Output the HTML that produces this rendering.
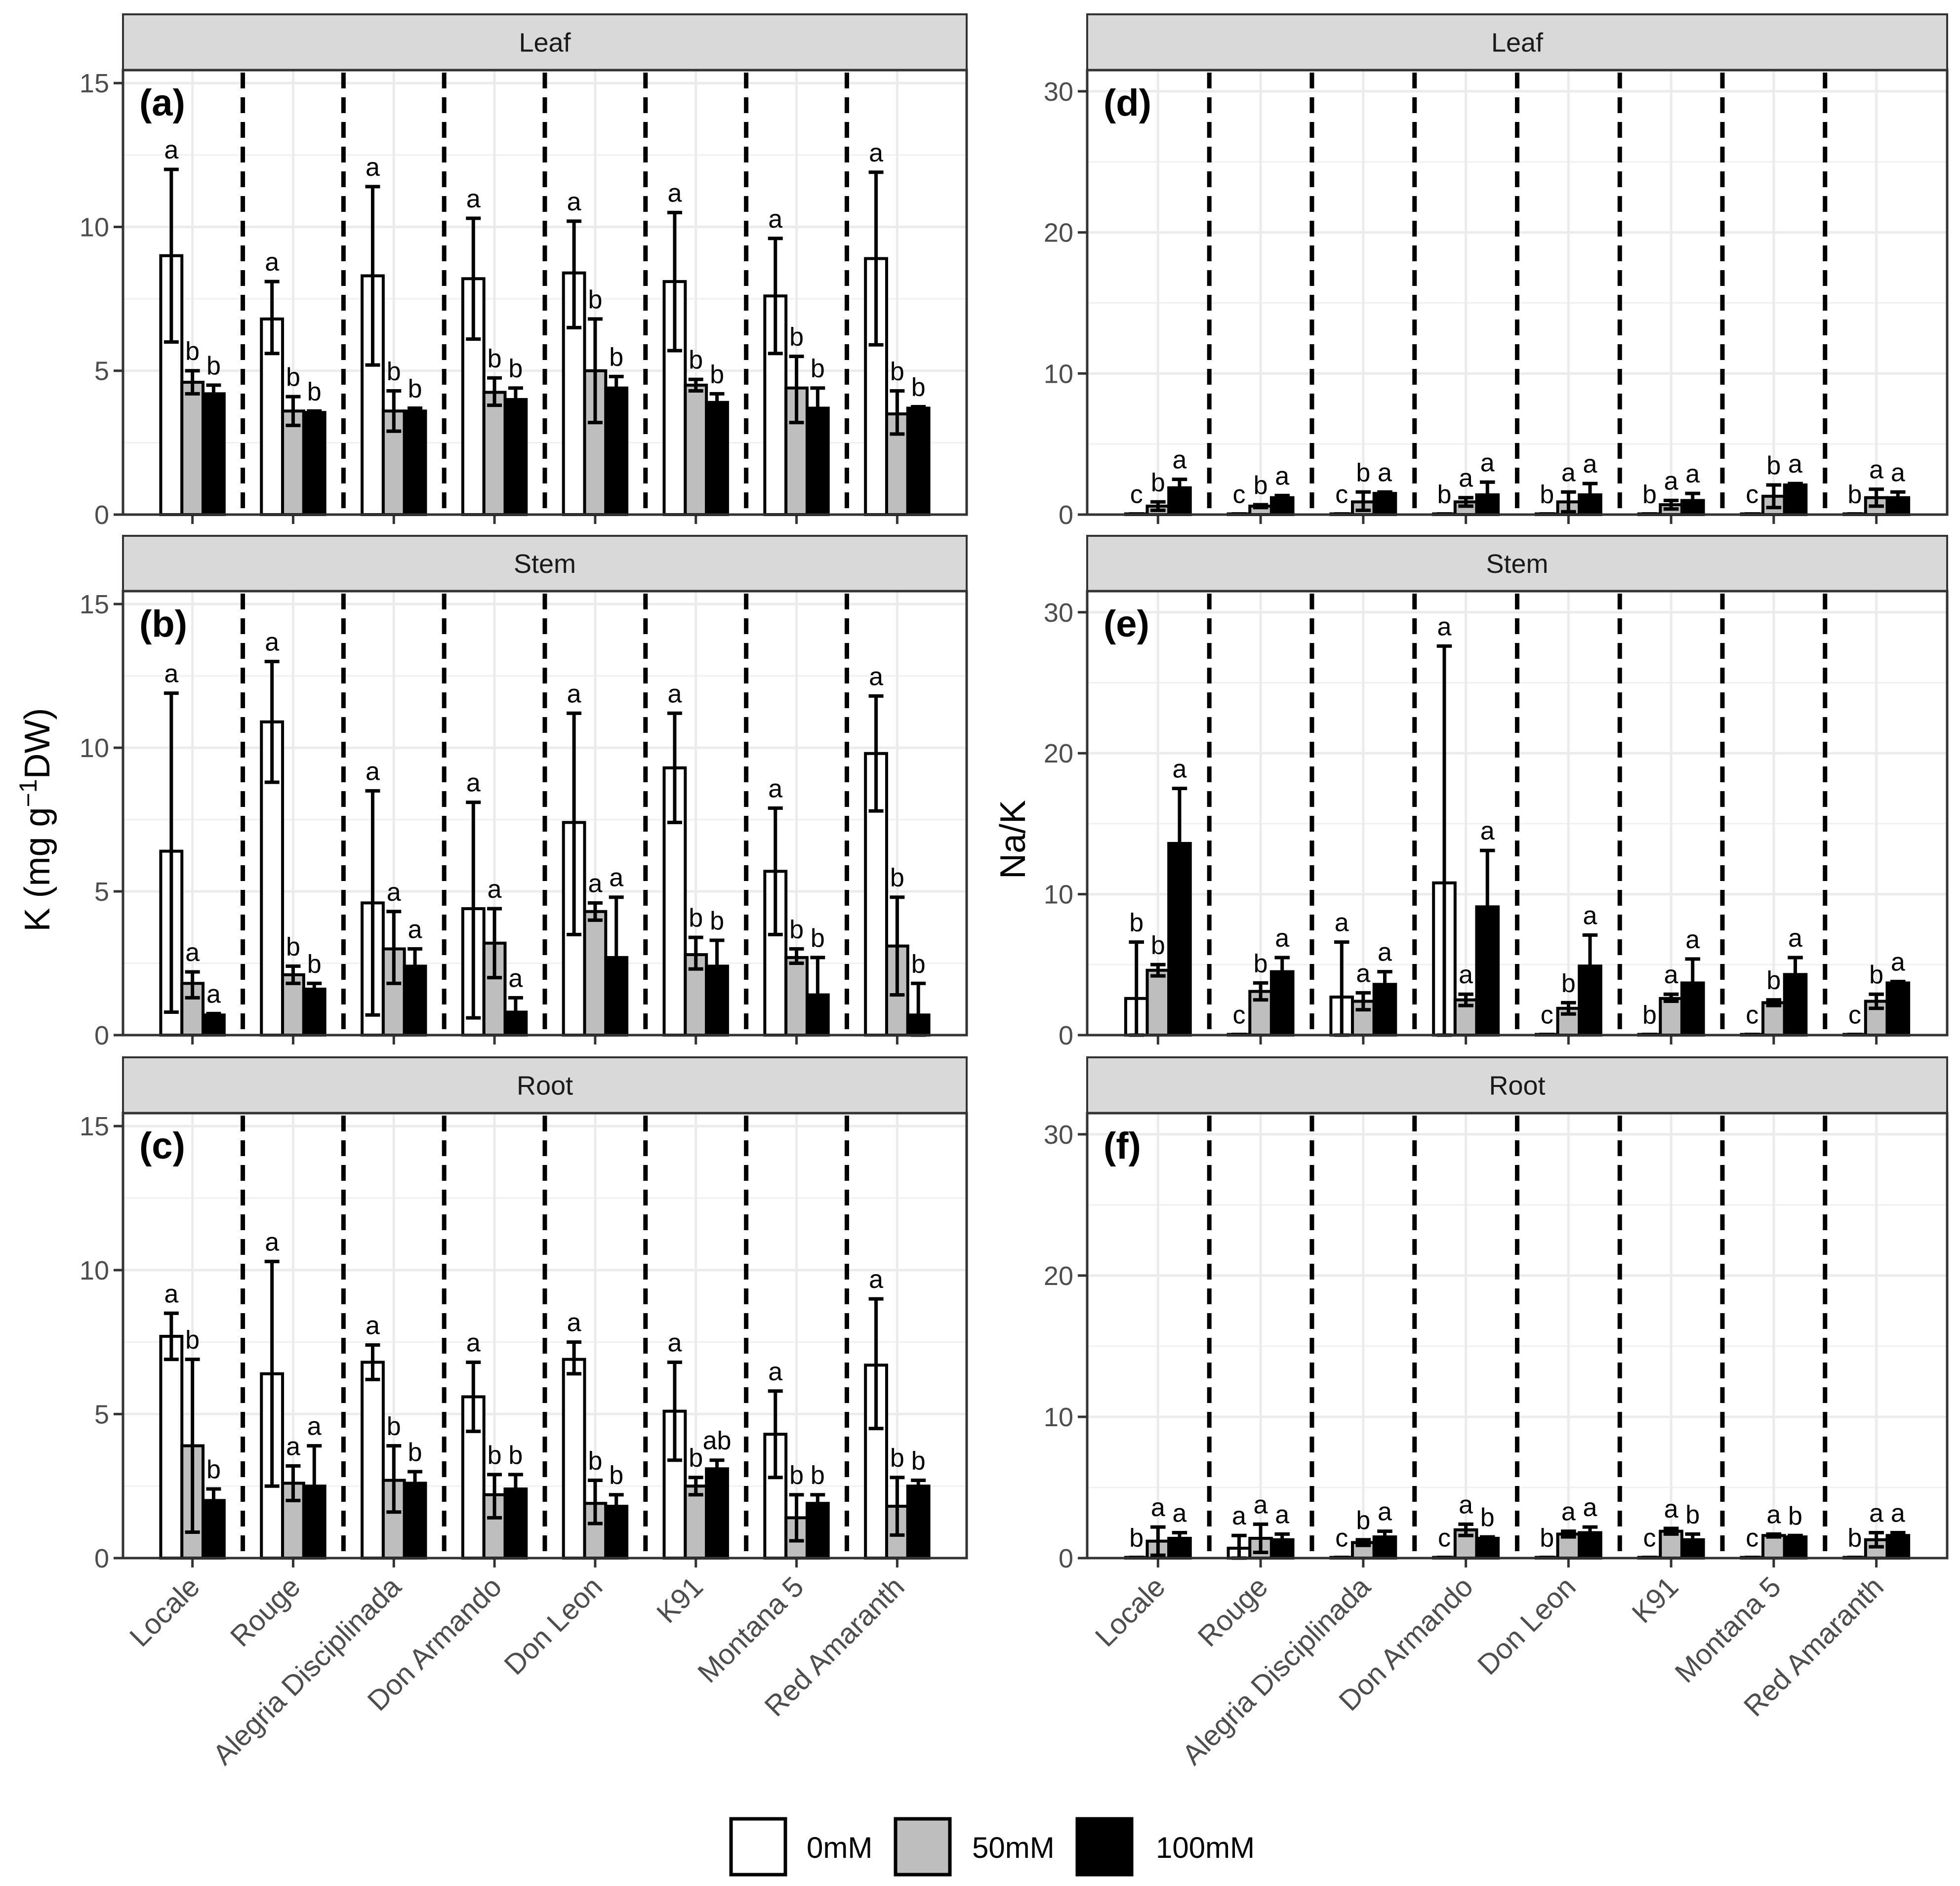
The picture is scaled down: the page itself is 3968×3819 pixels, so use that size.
<!DOCTYPE html>
<html><head><meta charset="utf-8"><style>
html,body{margin:0;padding:0;background:#fff}
svg{display:block}
text{font-family:"Liberation Sans",Arial,sans-serif}
</style></head><body>
<svg id="chart" width="3968" height="3819" viewBox="0 0 3968 3819" xmlns="http://www.w3.org/2000/svg"></svg>
<script>
const categories=["Locale","Rouge","Alegria Disciplinada","Don Armando","Don Leon","K91","Montana 5","Red Amaranth"];
const treatments=["0mM","50mM","100mM"];
// K leaf: mean, lower, upper per treatment
const kLeafMean=[[9.0,4.6,4.2],[6.8,3.6,3.55],[8.3,3.6,3.6],[8.2,4.25,4.0],[8.4,5.0,4.4],[8.1,4.5,3.9],[7.6,4.4,3.7],[8.9,3.5,3.7]];
const kLeafLo=[[6.0,4.2,3.9],[5.6,3.1,3.5],[5.2,2.9,3.5],[6.1,3.8,3.6],[6.5,3.2,4.0],[5.7,4.3,3.6],[5.6,3.2,2.9],[5.9,2.8,3.6]];
const kLeafHi=[[12.0,5.0,4.5],[8.1,4.1,3.6],[11.4,4.3,3.7],[10.3,4.75,4.4],[10.2,6.8,4.8],[10.5,4.7,4.2],[9.6,5.5,4.4],[11.9,4.3,3.75]];
const kLeafLet=[["a","b","b"],["a","b","b"],["a","b","b"],["a","b","b"],["a","b","b"],["a","b","b"],["a","b","b"],["a","b","b"]];
const kStemMean=[[6.4,1.8,0.7],[10.9,2.1,1.6],[4.6,3.0,2.4],[4.4,3.2,0.8],[7.4,4.3,2.7],[9.3,2.8,2.4],[5.7,2.7,1.4],[9.8,3.1,0.7]];
const kStemLo=[[0.8,1.3,0.6],[8.8,1.8,1.4],[0.7,1.8,1.8],[0.6,2.0,0.2],[3.5,4.0,0.7],[7.4,2.3,1.5],[3.5,2.5,0.2],[7.8,1.4,0]];
const kStemHi=[[11.9,2.2,0.75],[13.0,2.4,1.8],[8.5,4.3,3.0],[8.1,4.4,1.3],[11.2,4.6,4.8],[11.2,3.4,3.3],[7.9,3.0,2.7],[11.8,4.8,1.8]];
const kStemLet=[["a","a","a"],["a","b","b"],["a","a","a"],["a","a","a"],["a","a","a"],["a","b","b"],["a","b","b"],["a","b","b"]];
const kRootMean=[[7.7,3.9,2.0],[6.4,2.6,2.5],[6.8,2.7,2.6],[5.6,2.2,2.4],[6.9,1.9,1.8],[5.1,2.5,3.1],[4.3,1.4,1.9],[6.7,1.8,2.5]];
const kRootLo=[[6.9,0.9,1.7],[2.5,2.0,1.1],[6.2,1.6,2.2],[4.4,1.4,1.9],[6.4,1.2,1.4],[3.4,2.2,2.8],[2.8,0.6,1.6],[4.5,0.8,2.3]];
const kRootHi=[[8.5,6.9,2.4],[10.3,3.2,3.9],[7.4,3.9,3.0],[6.8,2.9,2.9],[7.5,2.7,2.2],[6.8,2.8,3.4],[5.8,2.2,2.2],[9.0,2.8,2.7]];
const kRootLet=[["a","b","b"],["a","a","a"],["a","b","b"],["a","b","b"],["a","b","b"],["a","b","ab"],["a","b","b"],["a","b","b"]];
const nLeafMean=[[0.05,0.6,1.9],[0.05,0.6,1.2],[0.05,0.9,1.5],[0.05,0.9,1.4],[0.05,0.9,1.4],[0.05,0.7,1.0],[0.05,1.3,2.1],[0.05,1.2,1.2]];
const nLeafLo=[[0.05,0.3,1.4],[0.05,0.5,1.1],[0.05,0.3,1.4],[0.05,0.6,0.5],[0.05,0.2,0.6],[0.05,0.4,0.5],[0.05,0.5,2.0],[0.05,0.6,0.8]];
const nLeafHi=[[0.05,0.9,2.5],[0.05,0.7,1.35],[0.05,1.6,1.6],[0.05,1.2,2.3],[0.05,1.6,2.2],[0.05,1.0,1.5],[0.05,2.1,2.2],[0.05,1.8,1.6]];
const nLeafLet=[["c","b","a"],["c","b","a"],["c","b","a"],["b","a","a"],["b","a","a"],["b","a","a"],["c","b","a"],["b","a","a"]];
const nStemMean=[[2.6,4.6,13.6],[0.05,3.1,4.5],[2.7,2.4,3.6],[10.8,2.5,9.1],[0.05,1.9,4.9],[0.05,2.6,3.7],[0.05,2.3,4.3],[0.05,2.4,3.7]];
const nStemLo=[[0,4.2,9.7],[0.05,2.5,3.6],[0,1.8,2.7],[0,2.1,5.1],[0.05,1.5,2.7],[0.05,2.4,2.0],[0.05,2.1,3.1],[0.05,1.9,3.6]];
const nStemHi=[[6.6,5.0,17.5],[0.05,3.7,5.5],[6.6,3.0,4.5],[27.6,2.9,13.1],[0.05,2.3,7.1],[0.05,2.9,5.4],[0.05,2.5,5.5],[0.05,2.9,3.8]];
const nStemLet=[["b","b","a"],["c","b","a"],["a","a","a"],["a","a","a"],["c","b","a"],["b","a","a"],["c","b","a"],["c","b","a"]];
const nRootMean=[[0.05,1.2,1.4],[0.7,1.4,1.3],[0.05,1.1,1.5],[0.05,2.0,1.4],[0.05,1.7,1.8],[0.05,1.9,1.3],[0.05,1.6,1.5],[0.05,1.3,1.6]];
const nRootLo=[[0.05,0.2,1.0],[0,0.4,0.9],[0.05,0.9,1.1],[0.05,1.6,1.3],[0.05,1.5,1.4],[0.05,1.7,0.9],[0.05,1.5,1.4],[0.05,0.8,1.4]];
const nRootHi=[[0.05,2.2,1.8],[1.6,2.4,1.7],[0.05,1.3,1.9],[0.05,2.4,1.5],[0.05,1.9,2.2],[0.05,2.1,1.7],[0.05,1.7,1.6],[0.05,1.8,1.8]];
const nRootLet=[["b","a","a"],["a","a","a"],["c","b","a"],["c","a","b"],["b","a","a"],["c","a","b"],["c","a","b"],["b","a","a"]];
const kTicks=[0,5,10,15];
const nTicks=[0,10,20,30];
const stripLabels=["Leaf","Stem","Root"];
const tags=["(a)","(b)","(c)","(d)","(e)","(f)"];

const NS="http://www.w3.org/2000/svg";
const svg=document.getElementById('chart');
function mk(tag,attrs,parent){const e=document.createElementNS(NS,tag);for(const k in attrs)e.setAttribute(k,attrs[k]);(parent||svg).appendChild(e);return e;}

const cols=[{L:249,R:1957,max:15.45,ticks:kTicks},{L:2201,R:3942,max:31.5,ticks:nTicks}];
const rows=[{s:29,t:142,b:1042},{s:1085,t:1197,b:2096},{s:2141,t:2254,b:3155}];
const fills=["#ffffff","#bebebe","#000000"];
const panels=[
 [kLeafMean,kLeafLo,kLeafHi,kLeafLet],[kStemMean,kStemLo,kStemHi,kStemLet],[kRootMean,kRootLo,kRootHi,kRootLet],
 [nLeafMean,nLeafLo,nLeafHi,nLeafLet],[nStemMean,nStemLo,nStemHi,nStemLet],[nRootMean,nRootLo,nRootHi,nRootLet]];

for(let c=0;c<2;c++){for(let r=0;r<3;r++){
 const col=cols[c],row=rows[r],pi=c*3+r;
 const g=mk('g',{});
 
 
 const unit=(col.R-col.L)/8.38;
 const xc=i=>col.L+(i+0.69)*unit;
 const ys=v=>row.b-(v/col.max)*(row.b-row.t);
 // strip
 const st=mk('rect',{x:col.L,y:row.s,width:col.R-col.L,height:row.t-row.s,fill:'#d9d9d9',stroke:'#333',"stroke-width":4},g);
 
 
 const stt=mk('text',{x:(col.L+col.R)/2,y:(row.s+row.t)/2+19,"text-anchor":"middle","font-size":54,fill:'#1a1a1a'},g);
 stt.textContent=stripLabels[r];
 
 
 // minor grid
 for(let k=0;k<col.ticks.length-1;k++){const v=(col.ticks[k]+col.ticks[k+1])/2;
  mk('line',{x1:col.L,x2:col.R,y1:ys(v),y2:ys(v),stroke:'#f0f0f0',"stroke-width":3},g);}
 col.ticks.forEach(v=>{
  const gl=mk('line',{x1:col.L,x2:col.R,y1:ys(v),y2:ys(v),stroke:'#ebebeb',"stroke-width":5},g);
  
  
  mk('line',{x1:col.L-19,x2:col.L,y1:ys(v),y2:ys(v),stroke:'#333',"stroke-width":5},g);
  const tl=mk('text',{x:col.L-28,y:ys(v)+19,"text-anchor":"end","font-size":54,fill:'#4d4d4d'},g);
  tl.textContent=v;
  
  
 });
 categories.forEach((cat,i)=>{
  mk('line',{x1:xc(i),x2:xc(i),y1:row.t,y2:row.b,stroke:'#ebebeb',"stroke-width":5},g);
  mk('line',{x1:xc(i),x2:xc(i),y1:row.b,y2:row.b+19,stroke:'#333',"stroke-width":5},g);
  if(i<7){const dl=mk('line',{x1:xc(i)+unit/2,x2:xc(i)+unit/2,y1:row.t+5,y2:row.b,stroke:'#000',"stroke-width":9,"stroke-dasharray":"32 18"},g);
   
   }
 });
 const [M,LO,HI,LET]=panels[pi];
 const bw=unit*0.21;
 categories.forEach((cat,i)=>{
  for(let t=0;t<3;t++){
   const x0=xc(i)-1.5*bw+t*bw;
   const yv=ys(M[i][t]);
   const b=mk('rect',{x:x0,y:yv,width:bw,height:row.b-yv,fill:fills[t],stroke:'#000',"stroke-width":6},g);
   
   
   const cx=x0+bw/2,yl=ys(Math.max(0,LO[i][t])),yh=ys(HI[i][t]),w=bw*0.35;
   const eb=mk('path',{d:`M${cx},${yl}V${yh}M${cx-w},${yl}H${cx+w}M${cx-w},${yh}H${cx+w}`,stroke:'#000',"stroke-width":7,fill:'none'},g);
   
   
   const lt=mk('text',{x:cx,y:yh-22,"text-anchor":"middle","font-size":52,fill:'#000'},g);
   lt.textContent=LET[i][t];
   
   
  }
  if(r===2){
   const xl=mk('text',{x:0,y:0,"text-anchor":"end","font-size":58,fill:'#4d4d4d',transform:`translate(${xc(i)+18},${row.b+62}) rotate(-45)`},g);
   xl.textContent=cat;
   
   
  }
 });
 mk('rect',{x:col.L,y:row.t,width:col.R-col.L,height:row.b-row.t,fill:'none',stroke:'#333',"stroke-width":5},g);
 const tg=mk('text',{x:col.L+33,y:row.t+92,"font-size":76,"font-weight":"bold",fill:'#000'},g);
 tg.textContent=tags[pi];
 
 
}}
// axis titles
const yt=mk('text',{x:0,y:0,"text-anchor":"middle","font-size":72,fill:'#000',transform:'translate(100,1660) rotate(-90)'});
yt.innerHTML='K (mg g<tspan dy="-26" font-size="50">−1</tspan><tspan dy="26">DW)</tspan>';


const yt2=mk('text',{x:0,y:0,"text-anchor":"middle","font-size":72,fill:'#000',transform:'translate(2075,1700) rotate(-90)'});
yt2.textContent='Na/K';


// legend
const lg=mk('g',{});


const lx=[1480,1813,2181],tx=[1633,1968,2340];
treatments.forEach((t,i)=>{
 const k=mk('rect',{x:lx[i],y:3683,width:110,height:113,fill:fills[i],stroke:'#000',"stroke-width":7},lg);
 
 
 const lt=mk('text',{x:tx[i],y:3762,"font-size":60,fill:'#000'},lg);
 lt.textContent=t;
 
 
});
</script>
</body></html>
